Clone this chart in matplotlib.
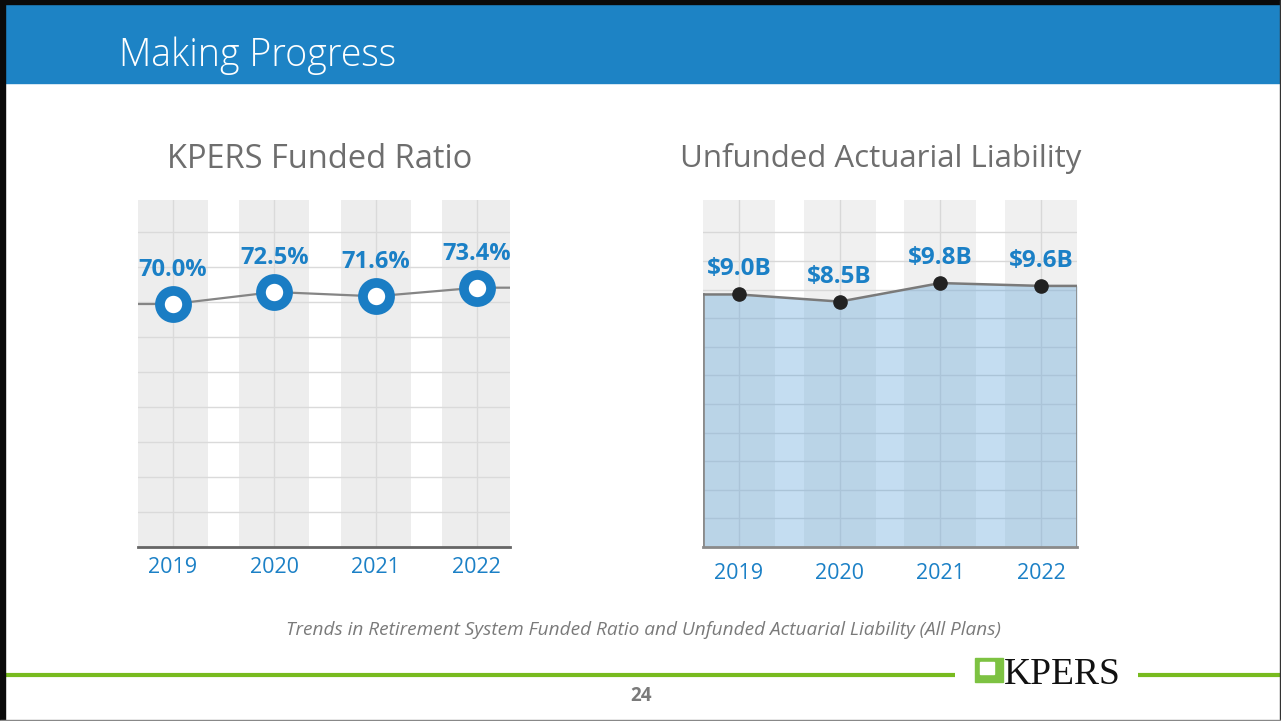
import numpy as np
import matplotlib
matplotlib.use("Agg")
import matplotlib.pyplot as plt
from matplotlib.patches import Rectangle

# ---------------- data ----------------
years = ["2019", "2020", "2021", "2022"]
funded_ratio = [70.0, 72.5, 71.6, 73.4]
funded_labels = ["70.0%", "72.5%", "71.6%", "73.4%"]
ual_billions = [9.0, 8.5, 9.8, 9.6]
ual_labels = ["$9.0B", "$8.5B", "$9.8B", "$9.6B"]

slide_title = "Making Progress"
left_title = "KPERS Funded Ratio"
right_title = "Unfunded Actuarial Liability"
caption = "Trends in Retirement System Funded Ratio and Unfunded Actuarial Liability (All Plans)"
page_num = "24"

# ---------------- style ----------------
W, H = 1281, 721
BLUE = "#1D83C5"
LABEL_BLUE = "#1B80C6"
GREY_TXT = "#6E6E6E"
GREEN = "#78BB1F"
FONT = "Open Sans"

plt.rcParams["font.family"] = [FONT, "DejaVu Sans"]

fig = plt.figure(figsize=(W / 100, H / 100), dpi=100)
fig.patch.set_facecolor("white")


def px_axes(x0, y0, x1, y1, **kw):
    return fig.add_axes([x0 / W, 1 - y1 / H, (x1 - x0) / W, (y1 - y0) / H], **kw)


# background / header
bg = px_axes(0, 0, W, H)
bg.set_xlim(0, W)
bg.set_ylim(H, 0)
bg.axis("off")
bg.add_patch(Rectangle((0, 0), W, 83, color=BLUE, zorder=1))
# frame
bg.add_patch(Rectangle((0, 0), W, 4, color="#0a0a0a", zorder=3))
bg.add_patch(Rectangle((0, 0), 4.5, H, color="#0a0a0a", zorder=3))
bg.add_patch(Rectangle((W - 1.5, 0), 1.5, H, color="#333333", zorder=3))
bg.add_patch(Rectangle((0, H - 1.5), W, 1.5, color="#888888", zorder=3))
bg.text(119, 56, slide_title, color="white", fontsize=27, fontweight="light",
        va="center", ha="left", zorder=4)

# chart titles
bg.text(320, 160, left_title, color=GREY_TXT, fontsize=23.5, ha="center", va="center")
bg.text(881, 158, right_title, color=GREY_TXT, fontsize=22.5, ha="center", va="center")

# caption
bg.text(643, 630, caption, color="#7a7a7a", fontsize=13.7, style="italic",
        ha="center", va="center")

# footer green lines and logo
bg.plot([4.5, 955], [675, 675], color=GREEN, lw=3.0, solid_capstyle="butt")
bg.plot([1138, W], [675, 675], color=GREEN, lw=3.0, solid_capstyle="butt")
bg.add_patch(Rectangle((975, 658), 28, 24, color="#7DC242", zorder=3))
bg.add_patch(Rectangle((980, 662), 14, 12, color="white", zorder=4))
bg.text(1004, 684, "KPERS", family=["Liberation Serif", "DejaVu Serif"],
        fontsize=27, color="#111111", ha="left", va="baseline")
bg.text(641, 696, page_num, color="#7a7a7a", fontsize=13.5, fontweight="bold",
        ha="center", va="center")

x = np.arange(len(years))


def stripes(ax, xl, half, grey, line_c):
    for i in x:
        ax.axvspan(i - half, i + half, color=grey, zorder=0, lw=0)
        ax.axvline(i, color=line_c, lw=1.0, zorder=0.5)


# ---------------- left chart: funded ratio ----------------
axL = px_axes(138, 200, 510, 547)
pxL = 4.8  # px per percentage point
yl0 = funded_ratio[0] - (547 - 304) / pxL
yl1 = funded_ratio[0] + (304 - 200) / pxL
xlL = (-0.345, 3.327)
axL.set_xlim(*xlL)
axL.set_ylim(yl0, yl1)
axL.set_facecolor("white")
stripes(axL, xlL, 0.345, "#EDEDED", "#DADADA")
for k in range(1, 10):
    axL.axhline(yl0 + k * 35 / pxL, color="#DADADA", lw=1.0, zorder=0.5)
xs = np.concatenate([[xlL[0]], x, [xlL[1]]])
ys = np.concatenate([[funded_ratio[0]], funded_ratio, [funded_ratio[-1]]])
axL.plot(xs, ys, color="#858585", lw=1.6, zorder=2)
axL.plot(x, funded_ratio, ls="none", marker="o", ms=19.5, mfc="white",
         mec="#1A7DC4", mew=7.0, zorder=3)
for xi, v, lab in zip(x, funded_ratio, funded_labels):
    axL.annotate(lab, (xi, v), xytext=(0, 24.5), textcoords="offset points",
                 ha="center", va="center", color=LABEL_BLUE, fontsize=17,
                 fontweight="bold", zorder=4)
for s in ["top", "left", "right"]:
    axL.spines[s].set_visible(False)
axL.spines["bottom"].set_color("#666666")
axL.spines["bottom"].set_linewidth(2.0)
axL.set_yticks([])
axL.set_xticks(x)
axL.set_xticklabels(years, color=LABEL_BLUE, fontsize=15.5)
axL.tick_params(axis="x", length=0, pad=7.5)

# ---------------- right chart: UAL ----------------
axR = px_axes(703, 200, 1077, 547)
pxR = 14.25  # px per $B (visual scale of infographic)
vmean = 9.225
yr0 = vmean - (547 - 291.25) / pxR
yr1 = vmean + (291.25 - 200) / pxR
xlR = (-0.357, 3.356)
axR.set_xlim(*xlR)
axR.set_ylim(yr0, yr1)
axR.set_facecolor("white")
stripes(axR, xlR, 0.357, "#F0F0F0", "#D8D8D8")
for k in range(1, 12):
    axR.axhline(yr0 + k * 28.6 / pxR, color="#D8D8D8", lw=1.0, zorder=0.5)
xs = np.concatenate([[xlR[0]], x, [xlR[1]]])
ys = np.concatenate([[ual_billions[0]], ual_billions, [ual_billions[-1]]])
axR.fill_between(xs, yr0, ys, color="#5FA4DA", alpha=0.37, lw=0, zorder=1)
axR.plot([xlR[0], xlR[0]], [yr0, ys[0]], color="#8A8A8A", lw=2, zorder=2)
axR.plot([xlR[1], xlR[1]], [yr0, ys[-1]], color="#8A8A8A", lw=2, zorder=2)
axR.plot(xs, ys, color="#7A7A7A", lw=1.8, zorder=2)
axR.plot(x, ual_billions, ls="none", marker="o", ms=9.5, color="#222222", zorder=3)
for xi, v, lab in zip(x, ual_billions, ual_labels):
    axR.annotate(lab, (xi, v), xytext=(0, 18), textcoords="offset points",
                 ha="center", va="center", color=LABEL_BLUE, fontsize=17.5,
                 fontweight="bold", zorder=4)
for s in ["top", "left", "right"]:
    axR.spines[s].set_visible(False)
axR.spines["bottom"].set_color("#8A8A8A")
axR.spines["bottom"].set_linewidth(2.0)
axR.set_yticks([])
axR.set_xticks(x)
axR.set_xticklabels(years, color=LABEL_BLUE, fontsize=15.5)
axR.tick_params(axis="x", length=0, pad=11.5)

fig.savefig("out.png", dpi=100)
